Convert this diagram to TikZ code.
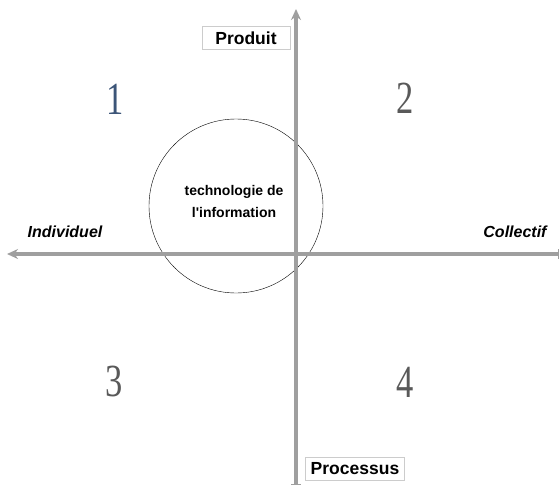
\documentclass[tikz,border=0pt]{standalone}
\usepackage{fontspec}
\setmainfont{Liberation Serif}
\setsansfont{Liberation Sans}
\usetikzlibrary{arrows.meta}
\begin{document}
\begin{tikzpicture}[x=1pt, y=-1pt, font=\sffamily,
          axe/.style={draw=gray!75, line width=3.5pt, -{Stealth[length=11pt, width=10pt]}},
          lbl/.style={draw=gray!40, fill=white, inner sep=2pt, minimum height=23pt, font=\sffamily\bfseries\fontsize{17.5}{19}\selectfont},
          pole/.style={font=\sffamily\bfseries\itshape\fontsize{16}{18}\selectfont},
          num/.style={font=\rmfamily\fontsize{46}{46}\selectfont, xscale=0.75, text=black!65}]
        \useasboundingbox (0,0) rectangle (560,488);
        \coordinate (nord) at (296,9);
        \coordinate (sud) at (296,484);
        \coordinate (ouest) at (7,254);
        \coordinate (est) at (558,254);
        % circle
        \node[draw, circle, minimum size=174pt, inner sep=0pt, thin] (tic) at (236,206) {};
        \node[align=center, font=\sffamily\bfseries\fontsize{14}{22}\selectfont] (ticl) at (234,201) {technologie de\\l\textquotesingle information};
        % axes
        \draw[axe] (sud) -- (nord);
        \draw[axe] (est) -- (ouest);
        \draw[gray!75, line width=1pt] ([yshift=-5pt]est) -- ([yshift=5pt]est);
        \draw[gray!75, line width=1pt] ([xshift=-5pt]sud) -- ([xshift=5pt]sud);
        % labels
        \node[lbl, minimum width=88pt] (prod) at (246,38) {Produit};
        \node[lbl, minimum width=99pt] (proc) at (355,469) {Processus};
        \node[pole] (ind) at (65,232) {Individuel};
        \node[pole] (col) at (515,232) {Collectif};
        % quadrants
        \node[num, text={rgb,255:red,60;green,85;blue,120}] (q1) at (115,99) {1};
        \node[num] (q2) at (405,98) {2};
        \node[num] (q3) at (114,381) {3};
        \node[num] (q4) at (405,382) {4};
      \end{tikzpicture}
\end{document}
